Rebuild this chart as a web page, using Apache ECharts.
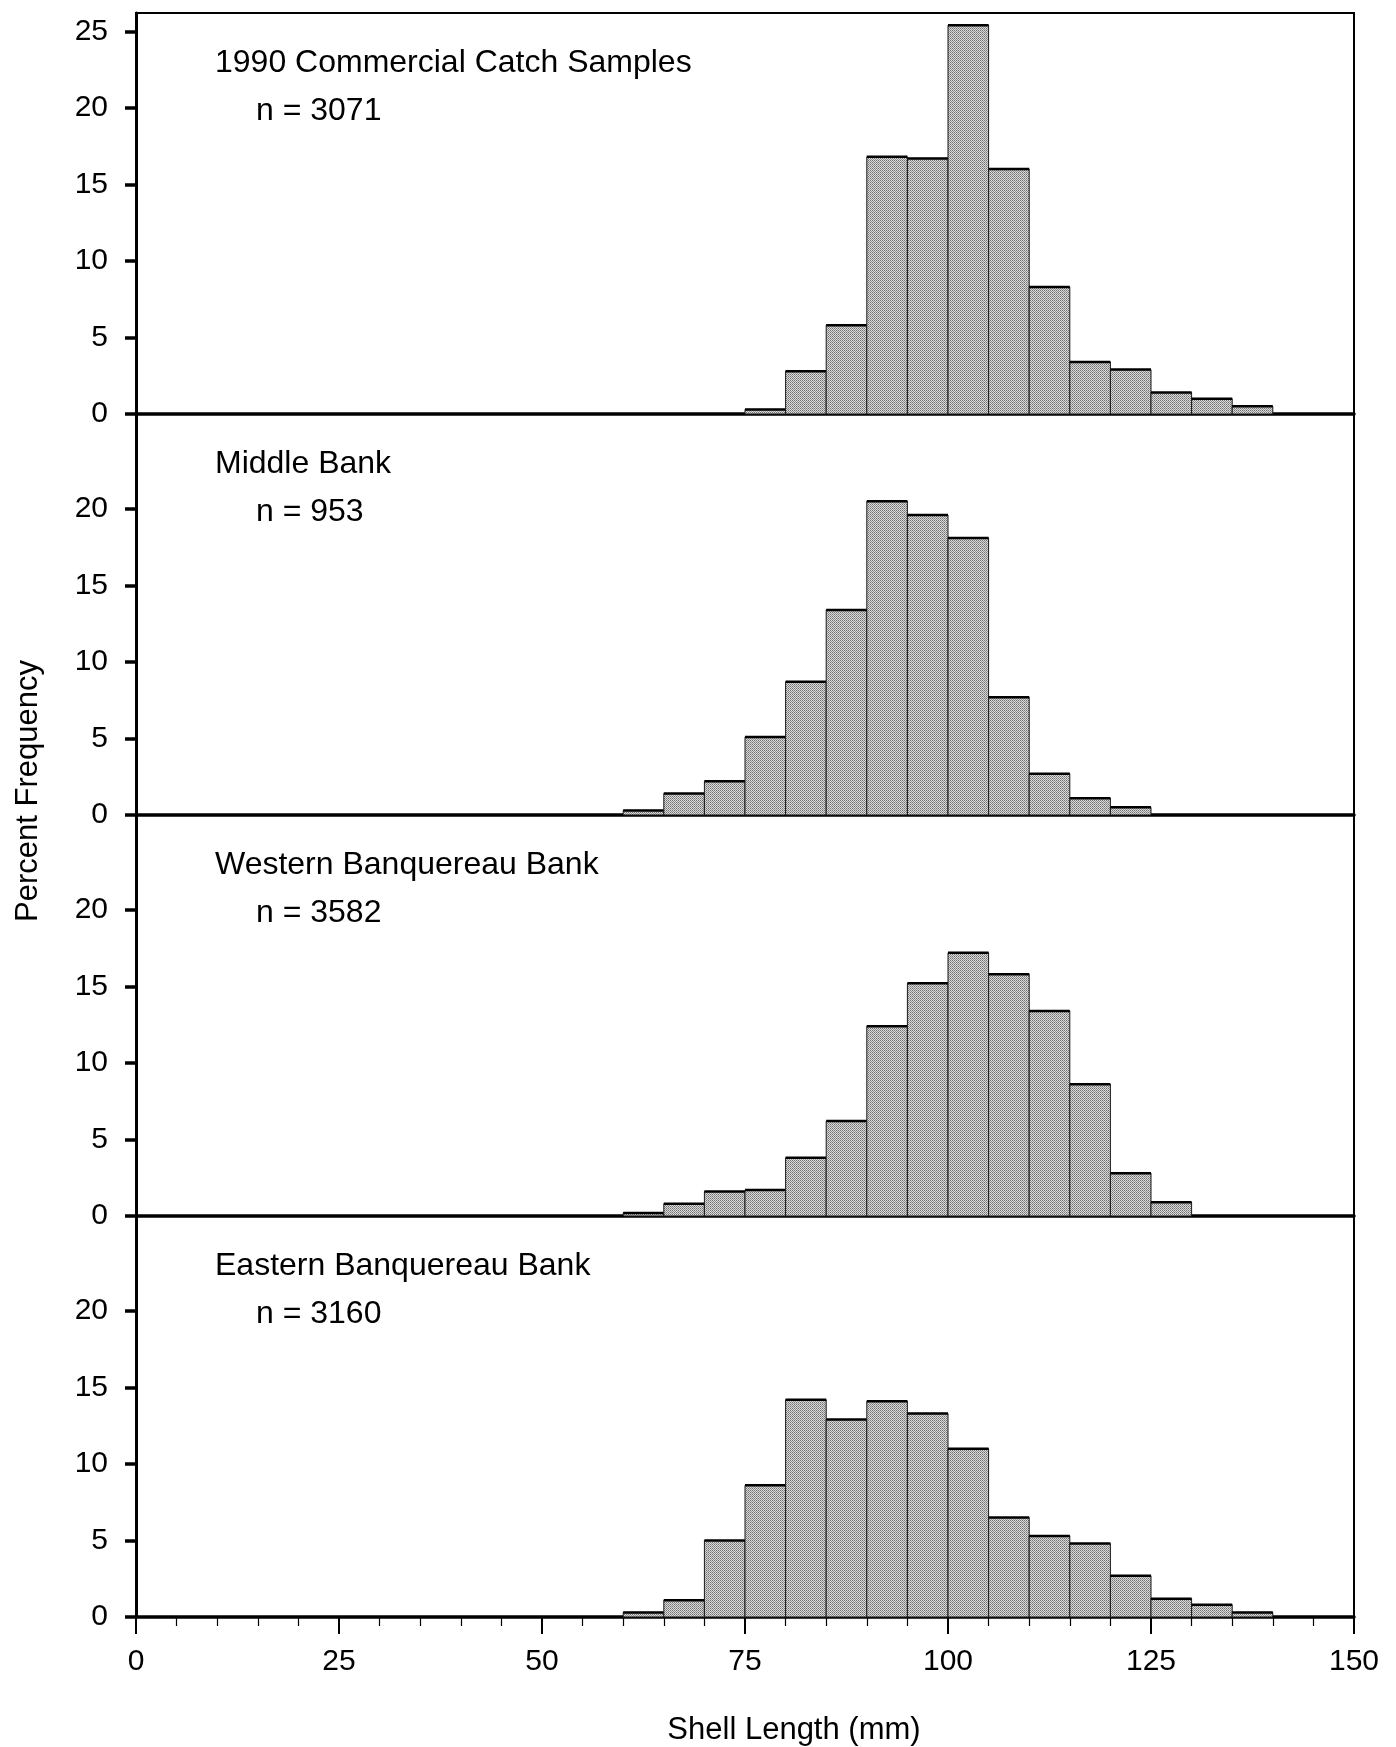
<!DOCTYPE html>
<html>
<head>
<meta charset="utf-8">
<script src="https://cdn.jsdelivr.net/npm/echarts@6/dist/echarts.min.js"></script>
<style>
html,body{margin:0;padding:0;background:#fff;}
#chart{width:1396px;height:1747px;}
</style>
</head>
<body>
<div id="chart"></div>
<script>
// ---- data ----
const binStarts = [60, 65, 70, 75, 80, 85, 90, 95, 100, 105, 110, 115, 120, 125, 130, 135];
const binWidth = 5;
const panelNames = ["1990 Commercial Catch Samples", "Middle Bank", "Western Banquereau Bank", "Eastern Banquereau Bank"];
const panelN = ["n = 3071", "n = 953", "n = 3582", "n = 3160"];
const commercial = [0, 0, 0, 0.3, 2.8, 5.8, 16.8, 16.7, 25.4, 16.0, 8.3, 3.4, 2.9, 1.4, 1.0, 0.5];
const middleBank = [0.3, 1.4, 2.2, 5.1, 8.7, 13.4, 20.5, 19.6, 18.1, 7.7, 2.7, 1.1, 0.5, 0, 0, 0];
const westernBanq = [0.2, 0.8, 1.6, 1.7, 3.8, 6.2, 12.4, 15.2, 17.2, 15.8, 13.4, 8.6, 2.8, 0.9, 0, 0];
const easternBanq = [0.3, 1.1, 5.0, 8.6, 14.2, 12.9, 14.1, 13.3, 11.0, 6.5, 5.3, 4.8, 2.7, 1.2, 0.8, 0.3];
const xTicks = [0, 25, 50, 75, 100, 125, 150];
const yTicksTop = [0, 5, 10, 15, 20, 25];
const yTicksOther = [0, 5, 10, 15, 20];
const xLabel = "Shell Length (mm)";
const yLabel = "Percent Frequency";

const seriesValues = [commercial, middleBank, westernBanq, easternBanq];

// ---- stipple pattern ----
const tile = document.createElement('canvas');
tile.width = 2; tile.height = 2;
const tctx = tile.getContext('2d');
tctx.fillStyle = '#dadada'; tctx.fillRect(0, 0, 2, 2);
tctx.fillStyle = '#707070'; tctx.fillRect(0, 0, 1, 1);
tctx.fillStyle = '#929292'; tctx.fillRect(1, 1, 1, 1);
const stipple = { image: tile, repeat: 'repeat' };

// ---- layout ----
const gridLeft = 136, gridRight = 42, firstTop = 13, panelH = 401;
const FONT = '"Liberation Sans", Arial, Helvetica, sans-serif';

const chart = echarts.init(document.getElementById('chart'), null, { renderer: 'canvas' });

function renderItem(params, api) {
  const x0 = api.value(0), x1 = api.value(1), v = api.value(2);
  const pBase = api.coord([x0, 0]);
  const pTop = api.coord([x1, v]);
  const w = pTop[0] - pBase[0];
  const h = pBase[1] - pTop[1];
  return {
    type: 'group',
    children: [
      { type: 'rect', shape: { x: pBase[0], y: pTop[1], width: w, height: h },
        style: { fill: stipple, stroke: '#1a1a1a', lineWidth: 1 } },
      { type: 'line', shape: { x1: pBase[0], y1: pTop[1], x2: pTop[0], y2: pTop[1] },
        style: { stroke: '#000', lineWidth: 2.5 } }
    ]
  };
}

const grids = [], xAxes = [], yAxes = [], series = [], graphics = [];
for (let i = 0; i < 4; i++) {
  const top = firstTop + i * panelH;
  grids.push({ left: gridLeft, right: gridRight, top: top, height: panelH,
    show: true, borderColor: '#000', borderWidth: 2, backgroundColor: 'transparent' });
  const isBottom = i === 3;
  xAxes.push({
    type: 'value', gridIndex: i, min: 0, max: 150, interval: 25,
    splitLine: { show: false },
    axisLine: { show: true, onZero: false, lineStyle: { color: '#000', width: 3.5 } },
    axisTick: { show: isBottom, length: 17, lineStyle: { color: '#000', width: 2 } },
    minorTick: { show: isBottom, splitNumber: 5, length: 9, lineStyle: { color: '#000', width: 1.2 } },
    axisLabel: { show: isBottom, customValues: xTicks, fontSize: 30, margin: 30, color: '#000', fontFamily: FONT }
  });
  const yt = i === 0 ? yTicksTop : yTicksOther;
  yAxes.push({
    type: 'value', gridIndex: i, min: 0, max: 26.2,
    splitLine: { show: false },
    axisLine: { show: true, lineStyle: { color: '#000', width: 3 } },
    axisTick: { show: true, customValues: yt, length: 11, lineStyle: { color: '#000', width: 3.5 } },
    axisLabel: { show: true, customValues: yt, fontSize: 30, margin: 28, color: '#000', fontFamily: FONT }
  });
  const vals = seriesValues[i];
  const data = [];
  binStarts.forEach((s, k) => { if (vals[k] > 0) data.push([s, s + binWidth, vals[k]]); });
  series.push({
    type: 'custom', xAxisIndex: i, yAxisIndex: i, renderItem: renderItem,
    encode: { x: [0, 1], y: 2 }, data: data, silent: true, z: 1
  });
  graphics.push({ type: 'text', x: 215, y: top + 50,
    style: { text: panelNames[i], fontSize: 32, fontFamily: FONT, fill: '#000', verticalAlign: 'middle' } });
  graphics.push({ type: 'text', x: 256, y: top + 98,
    style: { text: panelN[i], fontSize: 32, fontFamily: FONT, fill: '#000', verticalAlign: 'middle' } });
}

graphics.push({ type: 'text', x: 28, y: 791, rotation: Math.PI / 2,
  style: { text: yLabel, fontSize: 31, fontFamily: FONT, fill: '#000', align: 'center', verticalAlign: 'middle' } });
graphics.push({ type: 'text', x: 794, y: 1730,
  style: { text: xLabel, fontSize: 31, fontFamily: FONT, fill: '#000', align: 'center', verticalAlign: 'middle' } });

chart.setOption({
  animation: false,
  backgroundColor: '#fff',
  grid: grids,
  xAxis: xAxes,
  yAxis: yAxes,
  series: series,
  graphic: graphics
});
</script>
</body>
</html>
